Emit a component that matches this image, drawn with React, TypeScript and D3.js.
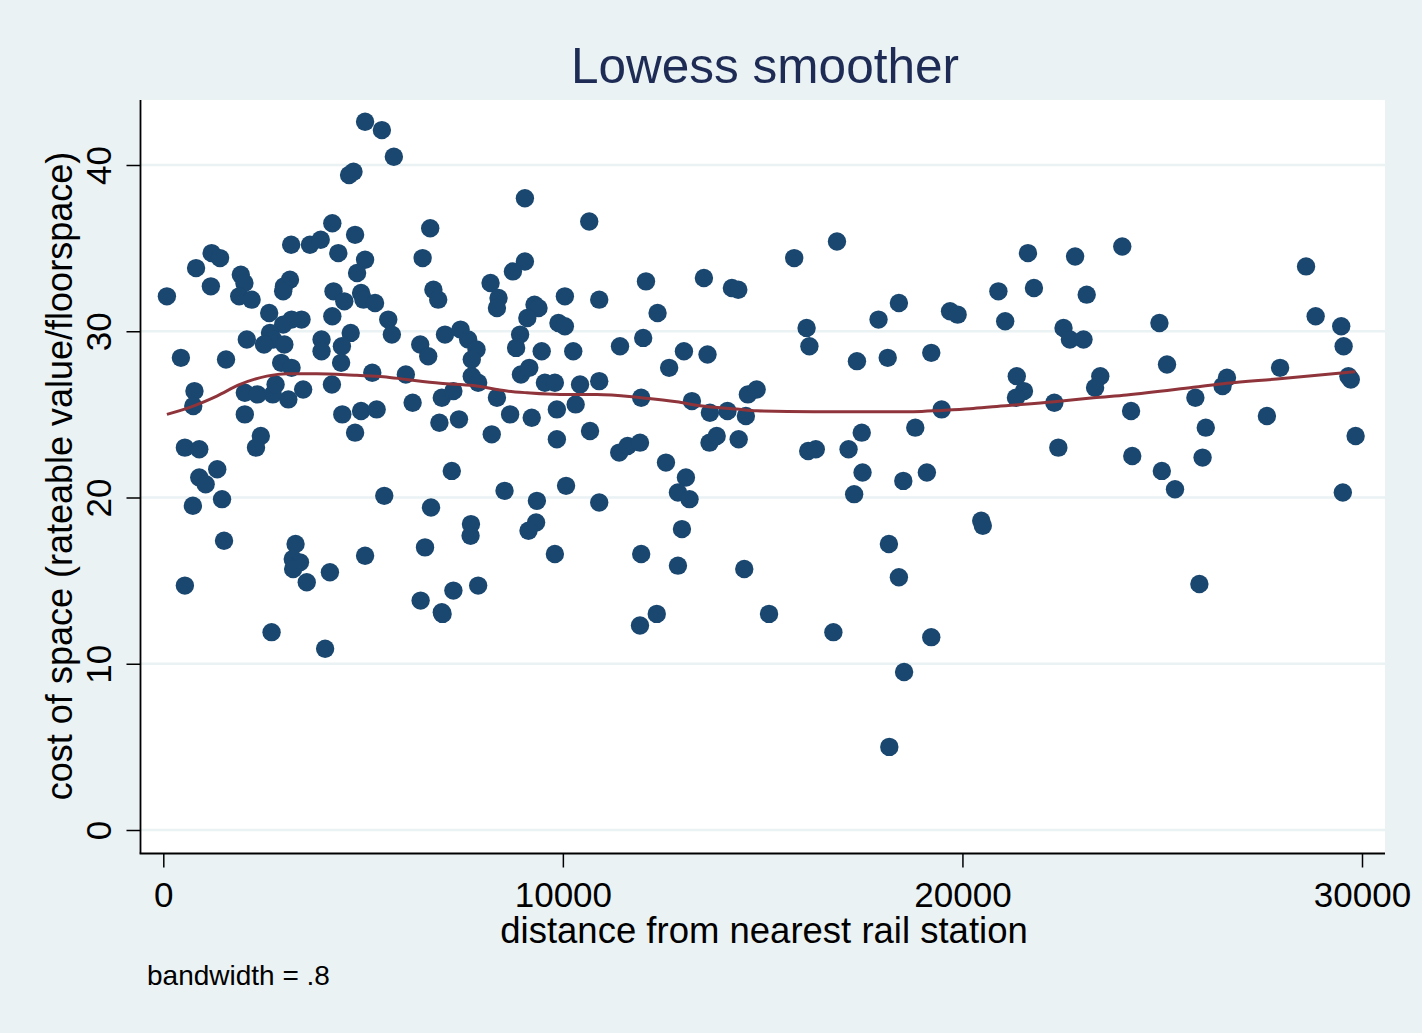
import React, { useEffect, useRef } from 'react';
import * as d3 from 'd3';

// distance from nearest rail station, cost of space
const points: [number, number][] = [
  [5050, 42.6], [5470, 42.1], [5770, 40.5], [4650, 39.4], [4760, 39.6], [9050, 38.0], [4230, 36.5], [6680, 36.2],
  [4800, 35.8], [3200, 35.2], [3670, 35.2], [3940, 35.5], [4380, 34.7], [1210, 34.7], [1420, 34.4], [6490, 34.4],
  [9050, 34.2], [820, 33.8], [5050, 34.3], [4850, 33.5], [8750, 33.6], [1940, 33.4], [2030, 32.9], [1190, 32.7],
  [3170, 33.1], [3020, 32.7], [3000, 32.4], [8190, 32.9], [90, 32.1], [4260, 32.4], [1900, 32.1], [2210, 31.9],
  [6760, 32.5], [6880, 31.9], [8390, 32.0], [8350, 31.4], [4530, 31.8], [4950, 32.3], [5010, 31.9], [5300, 31.7],
  [2650, 31.1], [9290, 31.6], [9390, 31.4], [9110, 30.8], [10050, 32.1], [4230, 30.9], [3460, 30.7], [3000, 30.4],
  [3210, 30.7], [5630, 30.7], [5720, 29.8], [4690, 29.9], [9890, 30.5], [10050, 30.3], [2090, 29.5], [2670, 29.9],
  [2750, 29.5], [2520, 29.2], [3030, 29.2], [3960, 29.5], [3960, 28.8], [4470, 29.1], [7050, 29.8], [7440, 30.1],
  [7630, 29.5], [7840, 28.9], [7720, 28.3], [8930, 29.8], [8830, 29.0], [9470, 28.8], [6430, 29.2], [6630, 28.5],
  [440, 28.4], [1570, 28.3], [2950, 28.1], [3210, 27.8], [4450, 28.1], [5230, 27.5], [6070, 27.4], [7720, 27.3],
  [7880, 26.9], [8950, 27.4], [9160, 27.8], [9550, 26.9], [9800, 26.9], [780, 26.4], [750, 25.5], [2040, 26.3],
  [2360, 26.2], [2740, 26.2], [2810, 26.8], [3130, 25.9], [3500, 26.5], [4220, 26.8], [6970, 26.0], [7260, 26.4],
  [8350, 26.0], [6240, 25.7], [2040, 25.0], [4480, 25.0], [4950, 25.2], [5340, 25.3], [6910, 24.5], [7400, 24.7],
  [8680, 25.0], [9220, 24.8], [9850, 25.3], [4800, 23.9], [8220, 23.8], [9850, 23.5], [540, 23.0], [900, 22.9],
  [2440, 23.7], [2320, 23.0], [1350, 21.7], [900, 21.2], [1060, 20.8], [7220, 21.6],
  [740, 19.5], [1470, 19.9], [1520, 17.4], [540, 14.7], [2710, 11.9], [3310, 17.2], [3240, 16.3], [3420, 16.1],
  [3250, 15.7], [3590, 14.9], [4170, 15.5], [4050, 10.9], [5050, 16.5], [5530, 20.1], [6700, 19.4], [6550, 17.0],
  [7700, 18.4], [7690, 17.7], [8540, 20.4], [9350, 19.8], [9330, 18.5], [9140, 18.0], [9800, 16.6], [10080, 20.7],
  [6440, 13.8], [6970, 13.1], [6990, 13.0], [7260, 14.4], [7880, 14.7],
  [10660, 36.6], [15790, 34.4], [16860, 35.4], [10910, 31.9], [12080, 33.0], [12370, 31.1], [13530, 33.2], [14230, 32.6],
  [14390, 32.5], [10260, 28.8], [11430, 29.1], [12010, 29.6], [13030, 28.8], [12660, 27.8], [13620, 28.6], [16100, 30.2],
  [16170, 29.1], [17900, 30.7], [18410, 31.7], [17360, 28.2], [18130, 28.4], [19220, 28.7], [19690, 31.2], [19880, 31.0],
  [10430, 26.8], [10910, 27.0], [10320, 25.6], [11960, 26.0], [13230, 25.8], [13680, 25.1], [14120, 25.2], [14580, 24.9],
  [14630, 26.2], [14850, 26.5], [19480, 25.3], [10680, 24.0], [11410, 22.7], [11620, 23.1], [11930, 23.3], [12580, 22.1],
  [13080, 21.2], [13670, 23.3], [13850, 23.7], [14400, 23.5], [16140, 22.8], [16330, 22.9], [17150, 22.9], [17480, 23.9],
  [17500, 21.5], [18520, 21.0], [18820, 24.2], [19110, 21.5],
  [10910, 19.7], [12880, 20.3], [13170, 19.9], [12980, 18.1], [11960, 16.6], [12880, 15.9], [14540, 15.7], [11930, 12.3],
  [12350, 13.0], [15160, 13.0], [16770, 11.9], [17290, 20.2], [18160, 17.2], [18410, 15.2], [19220, 11.6], [18540, 9.5],
  [18170, 5.0],
  [21640, 34.7], [22820, 34.5], [24000, 35.1], [20900, 32.4], [21790, 32.6], [23110, 32.2], [21070, 30.6], [22530, 30.2],
  [22690, 29.5], [23030, 29.5], [24930, 30.5], [28600, 33.9], [28840, 30.9], [29480, 30.3], [29540, 29.1], [21360, 27.3],
  [21540, 26.4], [21340, 26.0], [23450, 27.3], [23320, 26.6], [25120, 28.0], [27950, 27.8], [26620, 27.2], [26510, 26.7],
  [29660, 27.3], [29720, 27.1], [22300, 25.7], [25830, 26.0], [24220, 25.2], [27620, 24.9], [26090, 24.2], [29840, 23.7],
  [22400, 23.0], [24250, 22.5], [24990, 21.6], [26010, 22.4],
  [20470, 18.6], [20510, 18.3], [25320, 20.5], [25930, 14.8], [29520, 20.3],
];

// lowess curve
const lowessDistance = [90, 750, 1340, 1920, 2590, 3090, 3840, 4840, 5510, 6090, 6930, 7760, 8600, 9100, 9930,
  10850, 11960, 12850, 13430, 14350, 14850, 16270, 18770, 19480, 20190, 20860, 22300, 23280, 24110, 25780,
  26620, 27870, 29830];
const lowessCost = [25.0, 25.5, 26.1, 26.8, 27.3, 27.45, 27.45, 27.35, 27.27, 27.1, 26.87, 26.73, 26.4, 26.3, 26.2,
  26.2, 26.0, 25.76, 25.52, 25.32, 25.22, 25.16, 25.16, 25.24, 25.34, 25.48, 25.76, 26.0, 26.17, 26.63,
  26.87, 27.13, 27.57];

const xTicks = [0, 10000, 20000, 30000];
const yTicks = [0, 10, 20, 30, 40];

const W = 1422, H = 1033;
const FONT = '"Liberation Sans", Arial, Helvetica, sans-serif';
const BG = '#eaf2f3';

const drawChart = (container: SVGSVGElement) => {
  const svg = d3.select(container);
  svg.selectAll('*').remove();
  svg.attr('width', W).attr('height', H);

  const plot = { left: 140.5, right: 1385, top: 100, bottom: 853.5 };

  svg.append('rect').attr('width', W).attr('height', H).attr('fill', BG);
  svg.append('rect')
    .attr('x', plot.left).attr('y', plot.top)
    .attr('width', plot.right - plot.left).attr('height', plot.bottom - plot.top)
    .attr('fill', '#ffffff');

  const x = d3.scaleLinear().domain([0, 30000]).range([163.3, 1362]);
  const y = d3.scaleLinear().domain([0, 40]).range([830, 165]);

  // gridlines
  svg.append('g').selectAll('line')
    .data(yTicks)
    .enter().append('line')
    .attr('x1', plot.left).attr('x2', plot.right)
    .attr('y1', d => y(d)).attr('y2', d => y(d))
    .attr('stroke', BG).attr('stroke-width', 2.5);

  // points
  svg.append('g').selectAll('circle')
    .data(points)
    .enter().append('circle')
    .attr('cx', d => x(d[0]))
    .attr('cy', d => y(d[1]))
    .attr('r', 9.2)
    .attr('fill', '#1a476f');

  // lowess line
  const line = d3.line<number>()
    .x(d => x(lowessDistance[d]))
    .y(d => y(lowessCost[d]))
    .curve(d3.curveMonotoneX);
  svg.append('path')
    .attr('d', line(d3.range(lowessDistance.length)))
    .attr('fill', 'none')
    .attr('stroke', '#8f343a')
    .attr('stroke-width', 3);

  // axes
  const xAxis = svg.append('g')
    .attr('transform', `translate(0,${plot.bottom})`)
    .call(d3.axisBottom(x).tickValues(xTicks).tickSize(14).tickFormat(d3.format('d')));
  xAxis.select('.domain').remove();
  xAxis.selectAll('line').attr('stroke', '#000').attr('stroke-width', 1.5);
  xAxis.selectAll('text')
    .attr('y', 53.5).attr('dy', null)
    .attr('fill', '#000')
    .style('font-family', FONT).style('font-size', '35px');

  const yAxis = svg.append('g')
    .attr('transform', `translate(${plot.left},0)`)
    .call(d3.axisLeft(y).tickValues(yTicks).tickSize(14));
  yAxis.select('.domain').remove();
  yAxis.selectAll('line').attr('stroke', '#000').attr('stroke-width', 1.5);
  yAxis.selectAll('text')
    .attr('x', null).attr('dy', null)
    .attr('text-anchor', 'middle')
    .attr('transform', 'translate(-29.5,0) rotate(-90)')
    .attr('fill', '#000')
    .style('font-family', FONT).style('font-size', '35px');

  svg.append('line')
    .attr('x1', plot.left).attr('x2', plot.left)
    .attr('y1', plot.top).attr('y2', plot.bottom)
    .attr('stroke', '#000').attr('stroke-width', 1.8);
  svg.append('line')
    .attr('x1', plot.left - 0.9).attr('x2', plot.right)
    .attr('y1', plot.bottom).attr('y2', plot.bottom)
    .attr('stroke', '#000').attr('stroke-width', 1.8);

  // titles
  svg.append('text')
    .attr('x', 765).attr('y', 82.5)
    .attr('text-anchor', 'middle')
    .attr('fill', '#1d2b55')
    .style('font-family', FONT).style('font-size', '49.5px')
    .text('Lowess smoother');

  svg.append('text')
    .attr('x', 764).attr('y', 943)
    .attr('text-anchor', 'middle')
    .attr('fill', '#000')
    .style('font-family', FONT).style('font-size', '36.5px')
    .text('distance from nearest rail station');

  svg.append('text')
    .attr('transform', 'translate(72,476) rotate(-90)')
    .attr('text-anchor', 'middle')
    .attr('fill', '#000')
    .style('font-family', FONT).style('font-size', '36px')
    .text('cost of space (rateable value/floorspace)');

  svg.append('text')
    .attr('x', 147).attr('y', 985)
    .attr('fill', '#000')
    .style('font-family', FONT).style('font-size', '28px')
    .text('bandwidth = .8');
};

const App = () => {
  const ref = useRef<SVGSVGElement>(null);

  useEffect(() => {
    if (ref.current) {
      drawChart(ref.current);
    }
  }, []);

  return (
    <svg ref={ref} style={{ position: 'absolute', left: 0, top: 0, display: 'block' }} />
  );
};

export default App;
